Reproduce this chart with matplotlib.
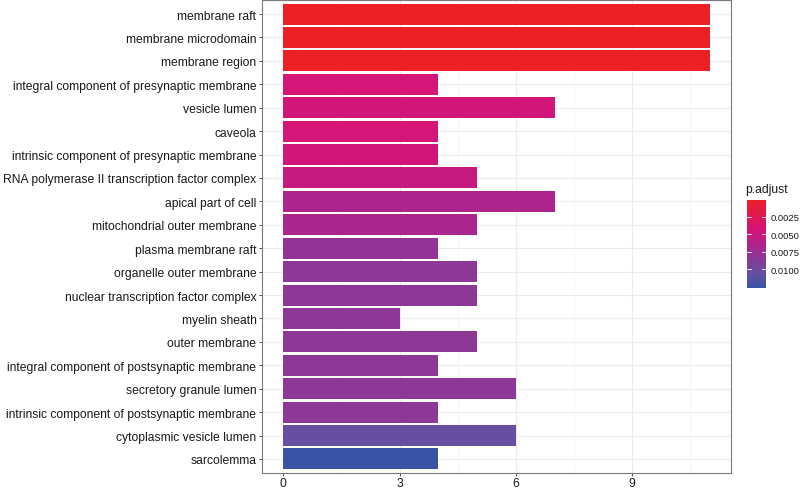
import numpy as np
import matplotlib
matplotlib.use("Agg")
import matplotlib.pyplot as plt
from matplotlib.colors import LinearSegmentedColormap, Normalize

categories = [
    "membrane raft", "membrane microdomain", "membrane region",
    "integral component of presynaptic membrane", "vesicle lumen", "caveola",
    "intrinsic component of presynaptic membrane",
    "RNA polymerase II transcription factor complex", "apical part of cell",
    "mitochondrial outer membrane", "plasma membrane raft",
    "organelle outer membrane", "nuclear transcription factor complex",
    "myelin sheath", "outer membrane",
    "integral component of postsynaptic membrane", "secretory granule lumen",
    "intrinsic component of postsynaptic membrane",
    "cytoplasmic vesicle lumen", "sarcolemma",
]
counts = [11, 11, 11, 4, 7, 4, 4, 5, 7, 5, 4, 5, 5, 3, 5, 4, 6, 4, 6, 4]
p_adjust = [0.00003, 0.00003, 0.00003, 0.0043, 0.0045, 0.0043, 0.0045,
            0.0052, 0.0068, 0.0070, 0.0080, 0.0083, 0.0083, 0.0083, 0.0083,
            0.0083, 0.0083, 0.0083, 0.0105, 0.0127]
cbar_ticks = [0.0025, 0.0050, 0.0075, 0.0100]
x_ticks = [0, 3, 6, 9]

# red -> magenta -> purple -> blue gradient (as rendered in the reference)
stops = [(0.00, (237, 32, 38)), (0.33, (214, 20, 118)), (0.52, (178, 34, 140)),
         (0.65, (142, 54, 150)), (0.82, (106, 78, 160)), (1.00, (58, 84, 165))]
cmap = LinearSegmentedColormap.from_list(
    "padj", [(s, tuple(np.array(c) / 255)) for s, c in stops])

vmin, vmax = min(p_adjust), max(p_adjust)
norm = Normalize(vmin, vmax)

plt.rcParams['font.family'] = ['Liberation Sans', 'DejaVu Sans']
fig = plt.figure(figsize=(8, 4.89), dpi=100)
ax = fig.add_axes([262 / 800, 1 - 474 / 489, (731 - 262) / 800, 473 / 489])

n = len(categories)
ypos = np.arange(n)
ax.barh(ypos, counts, height=0.9, color=[cmap(norm(v)) for v in p_adjust],
        zorder=3, edgecolor='none')
ax.set_ylim(n - 1 + 0.6, -0.6)
ax.set_xlim(-0.55, 11.55)
ax.set_yticks(ypos)
ax.set_yticklabels(categories, fontsize=8.75, color='#1a1a1a')
ax.set_xticks(x_ticks)
ax.set_xticklabels([str(t) for t in x_ticks], fontsize=8.75, color='#1a1a1a')
ax.set_xticks([1.5, 4.5, 7.5, 10.5], minor=True)
ax.tick_params(axis='both', which='major', length=2.5, width=0.6, color='#333333', pad=1.5)
ax.tick_params(axis='x', which='major', pad=0.5)
ax.tick_params(axis='x', which='minor', length=0)
ax.grid(True, which='major', color='#EBEBEB', lw=0.8, zorder=0)
ax.grid(True, which='minor', axis='x', color='#F2F2F2', lw=0.5, zorder=0)
ax.set_axisbelow(True)
for s in ax.spines.values():
    s.set_color('#7a7a7a')
    s.set_linewidth(0.8)

# colorbar (low p at top, red)
cax = fig.add_axes([747 / 800, 1 - 289.3 / 489, 19 / 800, 88.6 / 489])
grad = np.linspace(vmin, vmax, 256).reshape(-1, 1)
cax.imshow(grad, aspect='auto', cmap=cmap, norm=norm,
           extent=[0, 1, vmax, vmin], origin='upper')
cax.set_ylim(vmax, vmin)
cax.set_xlim(0, 1)
for t in cbar_ticks:
    cax.plot([0, 0.2], [t, t], color='white', lw=0.6)
    cax.plot([0.8, 1], [t, t], color='white', lw=0.6)
cax.set_xticks([])
cax.yaxis.tick_right()
cax.set_yticks(cbar_ticks)
cax.set_yticklabels([f"{t:.4f}" for t in cbar_ticks], fontsize=6.8, color='#1a1a1a')
cax.tick_params(axis='y', length=0, pad=3)
for s in cax.spines.values():
    s.set_visible(False)
fig.text(745 / 800, 1 - 190 / 489, "p.adjust", fontsize=8.75, color='#1a1a1a',
         ha='left', va='center')

fig.savefig("out.png", dpi=100)
